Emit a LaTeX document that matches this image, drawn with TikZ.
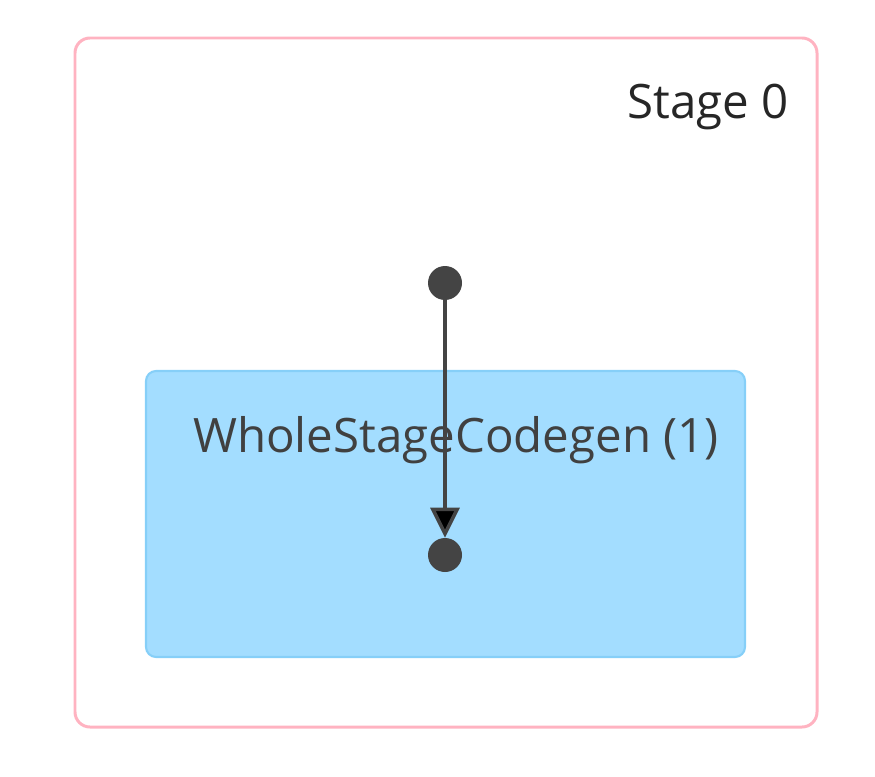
\documentclass[tikz,border=0pt]{standalone}
\usepackage{fontspec}
\setmainfont{Open Sans}
\usetikzlibrary{arrows.meta}
\definecolor{stagepink}{HTML}{FFB3C1}
\definecolor{codegenfill}{HTML}{A3DDFF}
\definecolor{codegenline}{HTML}{86CFF8}
\definecolor{dotgray}{HTML}{444444}
\tikzset{
  dotnode/.style={circle, fill=dotgray, inner sep=0pt, minimum size=0.68cm},
  flow/.style={line width=2pt, draw=dotgray, -{Triangle[length=0.6cm, width=0.58cm, fill=black]}}
}
\begin{document}
\begin{tikzpicture}
  \useasboundingbox (0,0) rectangle (17.5,15.52);
  \draw[stagepink, line width=1.7pt, rounded corners=0.3cm] (1.5,0.98) rectangle (16.34,14.76);
  \node[anchor=east, font=\fontsize{27}{32}\selectfont, text=black!85] (stage) at (15.9,13.38) {Stage 0};
  \draw[codegenline, fill=codegenfill, line width=1.2pt, rounded corners=0.2cm] (2.92,2.38) rectangle (14.9,8.1);
  \node[font=\fontsize{27}{32}\selectfont, text=black!75] (codegen) at (9.12,6.72) {WholeStageCodegen (1)};
  \node[dotnode] (src) at (8.9,9.86) {};
  \node[dotnode] (dst) at (8.9,4.42) {};
  \draw[flow] (src) -- (dst);
\end{tikzpicture}
\end{document}
